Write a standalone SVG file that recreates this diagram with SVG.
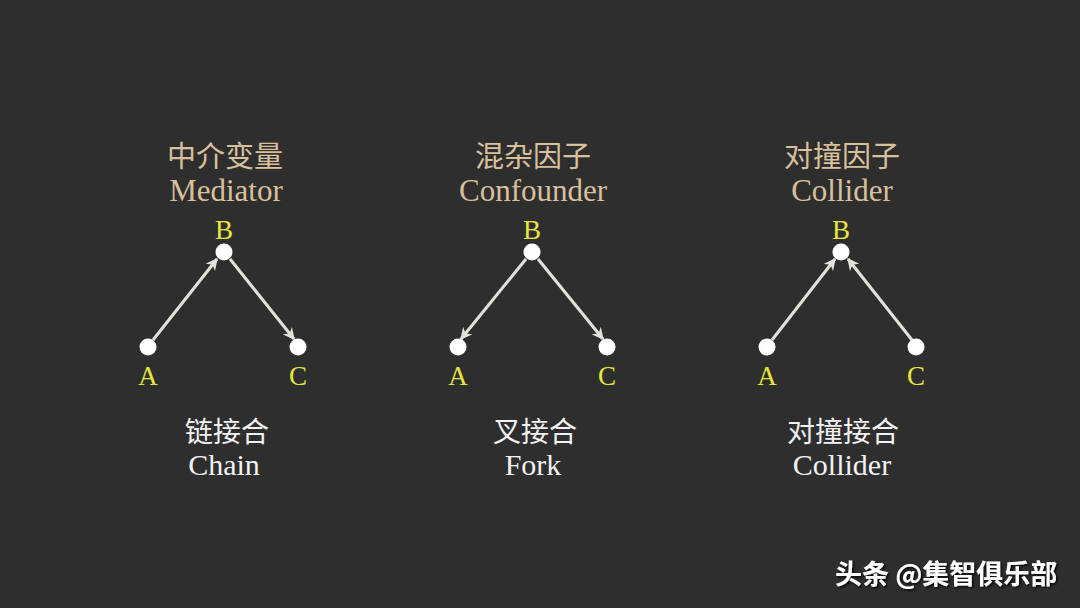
<svg xmlns="http://www.w3.org/2000/svg" width="1080" height="608" viewBox="0 0 1080 608">
<defs>
<marker id="ah" viewBox="0 0 10 10" refX="9" refY="5" markerWidth="4" markerHeight="4" orient="auto" markerUnits="strokeWidth">
<path d="M0,0 L10,5 L0,10 L3,5 z" fill="#e2e2da"/>
</marker>
<filter id="sh" x="-10%" y="-30%" width="130%" height="160%">
<feDropShadow dx="1.5" dy="1.5" stdDeviation="0.8" flood-color="#000" flood-opacity="0.9"/>
</filter>
</defs>
<style>
.tcn{font-family:"Liberation Serif","Noto Sans CJK SC",serif;font-size:29px;fill:#d8c09c;text-anchor:middle}
.ten{font-family:"Liberation Serif",serif;font-size:31px;fill:#d8c09c;text-anchor:middle}
.lab{font-family:"Liberation Serif",serif;font-size:27px;fill:#e6e63c;text-anchor:middle}
.bcn{font-family:"Liberation Serif","Noto Sans CJK SC",serif;font-size:28px;fill:#f2f2f2;text-anchor:middle}
.ben{font-family:"Liberation Serif",serif;font-size:30px;fill:#f2f2f2;text-anchor:middle}
.node{fill:#ffffff}
.edge{stroke:#e2e2da;stroke-width:3;fill:none;marker-end:url(#ah)}
.wm{font-family:"Noto Sans CJK SC","Liberation Sans",sans-serif;font-size:27px;fill:#ffffff;font-weight:bold}
</style>
<rect width="1080" height="608" fill="#2e2e2e"/>
<g id="connectors">
<line class="edge" x1="153" y1="340" x2="217" y2="259"/>
<line class="edge" x1="230" y1="259" x2="294" y2="339"/>
<line class="edge" x1="526" y1="259" x2="461" y2="339"/>
<line class="edge" x1="538" y1="259" x2="603" y2="339"/>
<line class="edge" x1="772" y1="340" x2="835" y2="259"/>
<line class="edge" x1="912" y1="340" x2="848" y2="259"/>
</g>
<g id="mediator">
<text class="tcn" x="225" y="167">中介变量</text>
<text class="ten" x="226" y="201">Mediator</text>
<circle class="node" cx="224" cy="252" r="8.5"/>
<text class="lab" x="224" y="239">B</text>
<circle class="node" cx="148" cy="347" r="8.5"/>
<text class="lab" x="148" y="385">A</text>
<circle class="node" cx="298" cy="347" r="8.5"/>
<text class="lab" x="298" y="385">C</text>
<text class="bcn" x="227" y="442">链接合</text>
<text class="ben" x="224" y="475">Chain</text>
</g>
<g id="confounder">
<text class="tcn" x="533" y="167">混杂因子</text>
<text class="ten" x="533" y="201">Confounder</text>
<circle class="node" cx="532" cy="252" r="8.5"/>
<text class="lab" x="532" y="239">B</text>
<circle class="node" cx="458" cy="347" r="8.5"/>
<text class="lab" x="458" y="385">A</text>
<circle class="node" cx="607" cy="347" r="8.5"/>
<text class="lab" x="607" y="385">C</text>
<text class="bcn" x="535" y="442">叉接合</text>
<text class="ben" x="533" y="475">Fork</text>
</g>
<g id="collider">
<text class="tcn" x="842" y="167">对撞因子</text>
<text class="ten" x="842" y="201">Collider</text>
<circle class="node" cx="841" cy="252" r="8.5"/>
<text class="lab" x="841" y="239">B</text>
<circle class="node" cx="767" cy="347" r="8.5"/>
<text class="lab" x="767" y="385">A</text>
<circle class="node" cx="916" cy="347" r="8.5"/>
<text class="lab" x="916" y="385">C</text>
<text class="bcn" x="843" y="442">对撞接合</text>
<text class="ben" x="842" y="475">Collider</text>
</g>
<g id="watermark">
<text class="wm" x="835" y="584" filter="url(#sh)">头条 @集智俱乐部</text>
</g>
</svg>
